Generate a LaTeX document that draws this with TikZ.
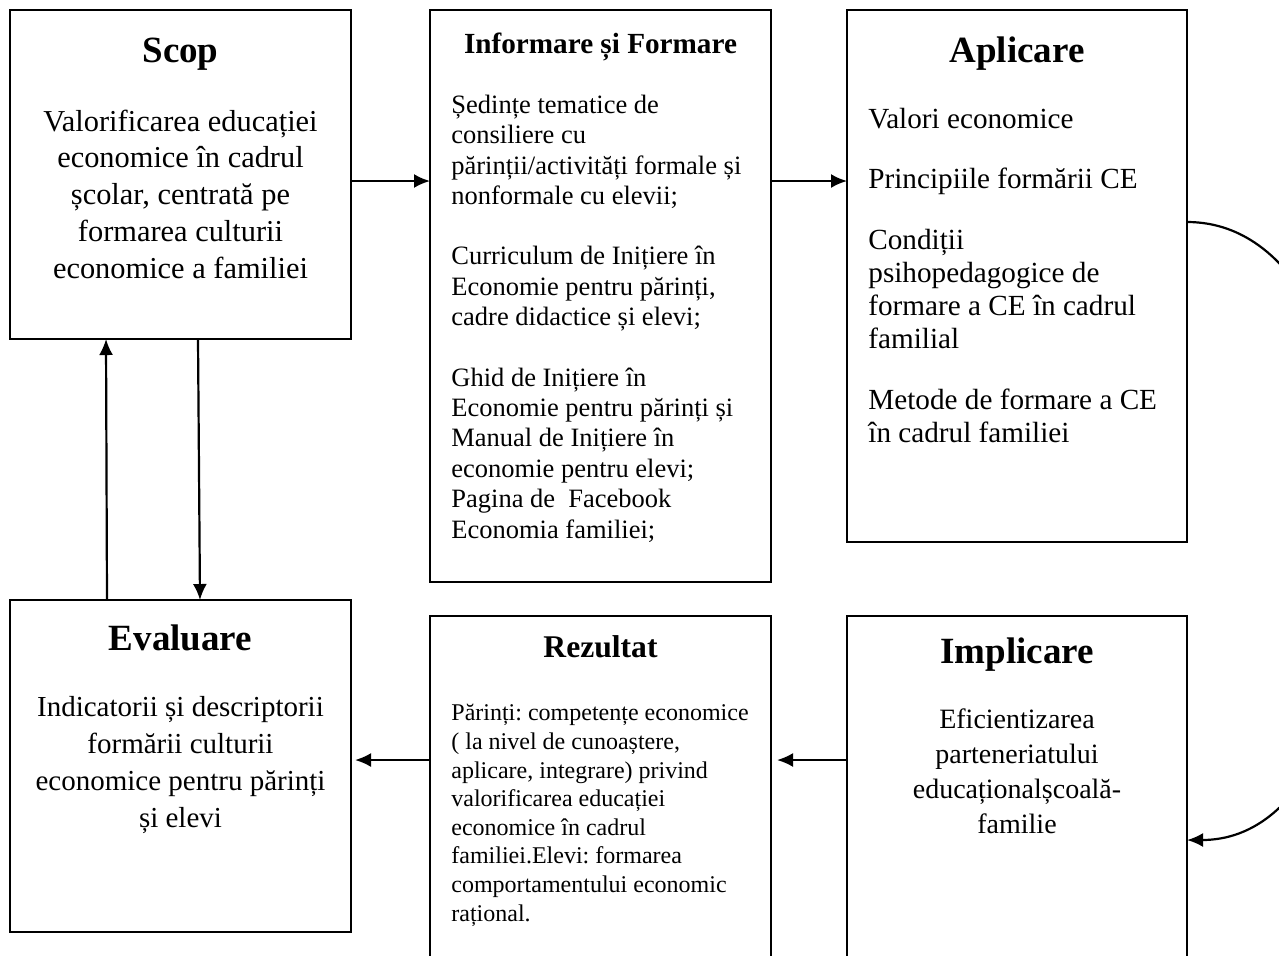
\documentclass[tikz,border=0pt]{standalone}
\usepackage{fontspec}
\setmainfont{Liberation Serif}
\usetikzlibrary{arrows.meta,calc,positioning}
\frenchspacing

\begin{document}
\begin{tikzpicture}[x=0.5pt, y=-0.5pt,
		box/.style={draw, line width=1pt, inner sep=0pt, outer sep=0pt, anchor=north west},
		arr/.style={-{Latex[length=8pt,width=7pt]}, line width=1.1pt},
		ttl/.style={font=\bfseries\fontsize{18.5}{22}\selectfont, inner sep=0pt, anchor=base},
		txt/.style={inner sep=0pt, anchor=base}]
		\useasboundingbox (0,0) rectangle (1279,955);
		\clip (0,0) rectangle (1279,955);
		% boxes
		\node[box, minimum width=170.5pt, minimum height=164.5pt] (scop) at (10,10) {};
		\node[box, minimum width=170.5pt, minimum height=286pt] (info) at (430,10) {};
		\node[box, minimum width=170pt, minimum height=266pt] (apl) at (847,10) {};
		\node[box, minimum width=170.5pt, minimum height=166pt] (eval) at (10,600) {};
		\node[box, minimum width=170.5pt, minimum height=179.5pt] (rez) at (430,616) {};
		\node[box, minimum width=170pt, minimum height=179.5pt] (impl) at (847,616) {};
		% titles
		\node[ttl] (scopT) at ($(scop.north)+(0,52)$) {Scop};
		\node[ttl, font=\bfseries\fontsize{14.6}{18}\selectfont] (infoT) at ($(info.north)+(0,43)$) {Informare și Formare};
		\node[ttl] (aplT) at ($(apl.north)+(0,52)$) {Aplicare};
		\node[ttl] (evalT) at ($(eval.north)+(0,50)$) {Evaluare};
		\node[ttl, font=\bfseries\fontsize{15.8}{19}\selectfont] (rezT) at ($(rez.north)+(0,41)$) {Rezultat};
		\node[ttl] (implT) at ($(impl.north)+(0,47)$) {Implicare};
		% texts (base = last line)
		\node[txt, align=center, font=\fontsize{15.2}{18.35}\selectfont] (scopX) at ($(scop.north)+(0,268)$)
			{Valorificarea educației\\ economice în cadrul\\ școlar, centrată pe\\ formarea culturii\\ economice a familiei};
		\node[txt, anchor=base west, align=left, font=\fontsize{13.25}{15.2}\selectfont] (infoX) at ($(info.north west)+(21,528)$)
			{Ședințe tematice de\\ consiliere cu\\ părinții/activități formale și\\ nonformale cu elevii;\\[15pt]
			Curriculum de Inițiere în\\ Economie pentru părinți,\\ cadre didactice și elevi;\\[15pt]
			Ghid de Inițiere în\\ Economie pentru părinți și\\ Manual de Inițiere în\\ economie pentru elevi;\\
			Pagina de~ Facebook\\ Economia familiei;};
		\node[txt, anchor=base west, align=left, font=\fontsize{14.6}{16.5}\selectfont] (aplX) at ($(apl.north west)+(21,432)$)
			{Valori economice\\[13.5pt] Principiile formării CE\\[14pt] Condiții\\ psihopedagogice de\\ formare a CE în cadrul\\ familial\\[14pt]
			Metode de formare a CE\\ în cadrul familiei};
		\node[txt, align=center, font=\fontsize{14.5}{18.5}\selectfont] (evalX) at ($(eval.north)+(0,227)$)
			{Indicatorii și descriptorii\\ formării culturii\\ economice pentru părinți\\ și elevi};
		\node[txt, anchor=base west, align=left, font=\fontsize{12}{14.3}\selectfont] (rezX) at ($(rez.north west)+(21,305)$)
			{Părinți: competențe economice\\ ( la nivel de cunoaștere,\\ aplicare, integrare) privind\\ valorificarea educației\\
			economice în cadrul\\ familiei.Elevi: formarea\\ comportamentului economic\\ rațional.};
		\node[txt, align=center, font=\fontsize{14}{17.5}\selectfont] (implX) at ($(impl.north)+(0,217)$)
			{Eficientizarea\\ parteneriatului\\ educaționalșcoală-\\ familie};
		% arrows
		\draw[arr] ($(scop.north east)+(0,171)$) -- ($(info.north west)+(0,171)$);
		\draw[arr] ($(info.north east)+(0,171)$) -- ($(apl.north west)+(0,171)$);
		\draw[arr] ($(eval.north west)+(97,0)$) -- ($(scop.south west)+(96,0)$);
		\draw[arr] ($(scop.south west)+(188,0)$) -- ($(eval.north west)+(190,0)$);
		\draw[arr, shorten >=3pt] ($(impl.north west)+(0,144)$) -- ($(rez.north east)+(0,144)$);
		\draw[arr, shorten >=2pt] ($(rez.north west)+(0,144)$) -- ($(eval.north east)+(0,160)$);
		\draw[arr] ($(apl.north east)+(0,212)$) to[out=0, in=0, looseness=0.96] ($(impl.north east)+(0,224)$);
\end{tikzpicture}
\end{document}
